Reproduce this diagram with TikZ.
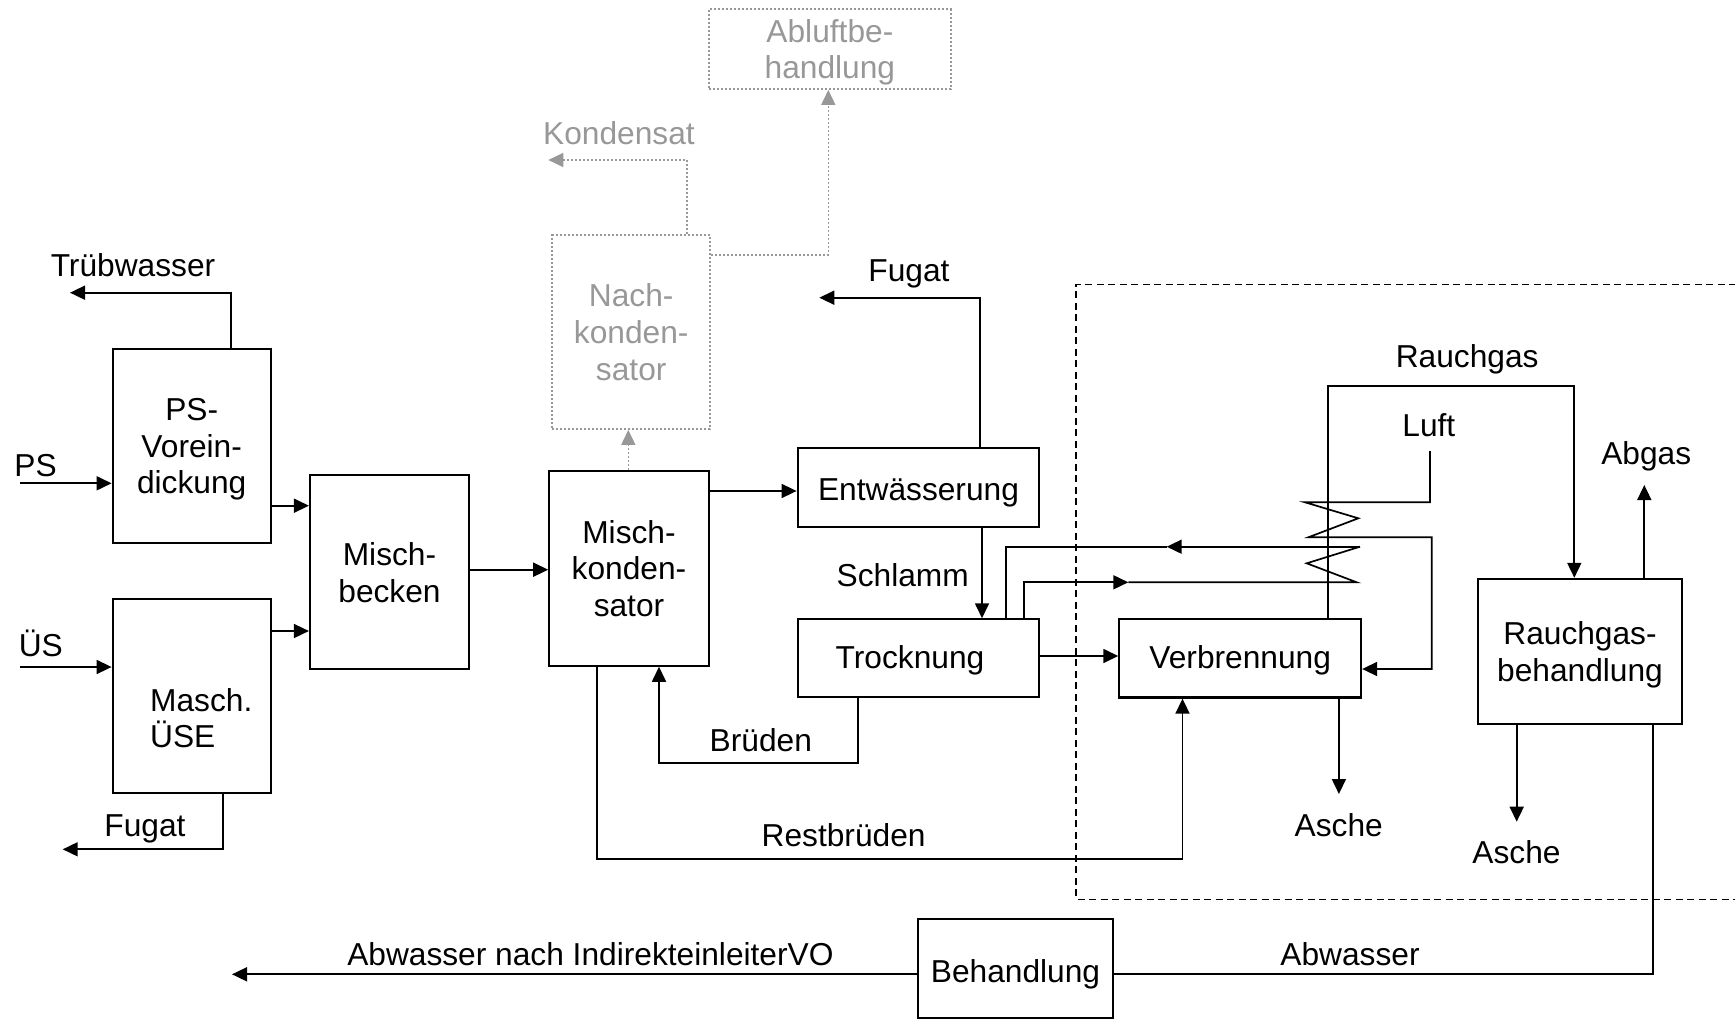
\documentclass[tikz,border=0pt]{standalone}
\usepackage{fontspec}
\setmainfont{Liberation Sans}
\usetikzlibrary{arrows.meta}
\definecolor{gr}{RGB}{152,152,152}
\begin{document}
\begin{tikzpicture}[x=1pt,y=-1pt,
  font=\fontsize{31.7}{36.7}\selectfont,
  box/.style={draw, line width=2.2pt, inner sep=0pt, align=center, text depth=0pt},
  gbox/.style={draw=gr, text=gr, line width=1.8pt, dash pattern=on 2pt off 2pt, inner sep=0pt, align=center, text depth=0pt},
  lbl/.style={inner sep=0pt, anchor=base},
  con/.style={line width=1.7pt},
  arr/.style={line width=1.7pt, -{Triangle[length=15pt,width=14pt]}},
  garr/.style={color=gr, line width=1.6pt, dash pattern=on 2pt off 2pt, -{Triangle[length=15pt,width=14pt]}},
  dline/.style={line width=1.5pt, dash pattern=on 7pt off 4.5pt}]
\useasboundingbox (0,0) rectangle (1735,1020);

% boxes
\node[box, minimum width=158pt, minimum height=194.3pt] (psv) at (191.7,446.2) {PS-\\Vorein-\\dickung};
\node[box, minimum width=158pt, minimum height=193.7pt] (use) at (191.7,695.9) {};
\node[lbl, anchor=base west] (usetxt1) at (150,711.7) {Masch.};
\node[lbl, anchor=base west] (usetxt2) at (150,747.7) {ÜSE};
\node[box, minimum width=159pt, minimum height=194.3pt] (mb) at (389.5,572.2) {Misch-\\becken};
\node[box, minimum width=159.4pt, minimum height=194.7pt] (mk) at (629,568.3) {Misch-\\konden-\\sator};
\node[box, minimum width=241.6pt, minimum height=78.4pt, text height=25pt] (ent) at (918.5,487.5) {Entwässerung};
\node[box, minimum width=241.6pt, minimum height=77.7pt] (tro) at (918.5,658.2) {};
\node[lbl] (trotxt) at (910,668.3) {Trocknung};
\node[box, minimum width=241.7pt, minimum height=78.5pt, text height=20pt] (ver) at (1240.2,658.3) {Verbrennung};
\node[box, minimum width=203.4pt, minimum height=145.2pt] (rgb) at (1580,651.5) {Rauchgas-\\behandlung};
\node[box, minimum width=195.6pt, minimum height=98.7pt, text height=28pt] (beh) at (1015.5,968.7) {Behandlung};
\node[gbox, minimum width=157.7pt, minimum height=194pt] (nk) at (631.2,332) {Nach-\\konden-\\sator};
\node[gbox, minimum width=241.7pt, minimum height=80pt] (ab) at (829.9,49) {Abluftbe-\\handlung};

% dashed frame
\coordinate (dtr) at (1736,284.3);
\coordinate (dtl) at (1076,284.3);
\coordinate (dbl) at (1076,899.3);
\coordinate (dbr) at (1736,899.3);
\draw[dline] (dtr) -- (dtl) -- (dbl) -- (dbr);

% labels
\node[lbl] (l1) at (133,276) {Trübwasser};
\node[lbl] (l2) at (35.5,476.7) {PS};
\node[lbl] (l3) at (40.8,656) {ÜS};
\node[lbl] (l4) at (145,836.7) {Fugat};
\node[lbl, text=gr] (l5) at (619,144) {Kondensat};
\node[lbl] (l6) at (909,281.7) {Fugat};
\node[lbl] (l7) at (902.7,586) {Schlamm};
\node[lbl] (l8) at (760.8,751.7) {Brüden};
\node[lbl] (l9) at (843.6,846) {Restbrüden};
\node[lbl] (l10) at (1467.2,367.3) {Rauchgas};
\node[lbl] (l11) at (1428.8,436.7) {Luft};
\node[lbl] (l12) at (1646.2,464) {Abgas};
\node[lbl] (l13) at (1338.7,836.7) {Asche};
\node[lbl] (l14) at (1516.5,863.3) {Asche};
\node[lbl] (l15) at (1350,965) {Abwasser};
\node[lbl] (l16) at (590.4,965.7) {Abwasser nach IndirekteinleiterVO};

% coordinates
\coordinate (psin) at (20,483.3);
\coordinate (usin) at (20,667);
\coordinate (twb) at (231,292.7);
\coordinate (tw) at (70,292.7);
\coordinate (fgb) at (223.3,849.3);
\coordinate (fg) at (62.7,849.3);
\coordinate (y1) at (0,505.7);
\coordinate (y2) at (0,631);
\coordinate (y3) at (0,569.7);
\coordinate (y4) at (0,491);
\coordinate (y5) at (0,656);
\coordinate (g1) at (628.3,0);
\coordinate (kb) at (686.7,160);
\coordinate (kd) at (548.3,160);
\coordinate (ab1) at (828.3,255);
\coordinate (fb) at (980.3,297.7);
\coordinate (fe) at (819.3,297.7);
\coordinate (sc) at (982,0);
\coordinate (b1) at (857.7,762.7);
\coordinate (b2) at (659,762.7);
\coordinate (r1) at (596.7,859.3);
\coordinate (r2) at (1182.5,859.3);
\coordinate (u1) at (1360,546.7);
\coordinate (um) at (1166.7,546.7);
\coordinate (u2) at (1006,546.7);
\coordinate (lo1) at (1024,582.3);
\coordinate (lom) at (1128.3,582.3);
\coordinate (lo2) at (1356.7,582.3);
\coordinate (zb) at (1306.7,563.3);
\coordinate (luftt) at (1430,451);
\coordinate (luftb) at (1430,502.3);
\coordinate (za1) at (1305,502.3);
\coordinate (za2) at (1358.3,518.3);
\coordinate (za3) at (1308.3,537.3);
\coordinate (zr) at (1431.7,537.3);
\coordinate (zrd) at (1431.7,669);
\coordinate (rg1) at (1327.7,385.7);
\coordinate (rg2) at (1574.3,385.7);
\coordinate (as1) at (1338.9,794);
\coordinate (ag) at (1644.3,485);
\coordinate (as2) at (1516.7,821.7);
\coordinate (aw1) at (1653.2,974.3);
\coordinate (awo) at (232,974.3);

% connectors
\draw[arr] (psin) -- (psin -| psv.west);
\draw[arr] (usin) -- (usin -| use.west);
\draw[arr] (psv.north -| twb) -- (twb) -- (tw);
\draw[arr] (use.south -| fgb) -- (fgb) -- (fg);
\draw[arr] (psv.east |- y1) -- (mb.west |- y1);
\draw[arr] (use.east |- y2) -- (mb.west |- y2);
\draw[arr] (mb.east |- y3) -- (mk.west |- y3);
\draw[arr] (mk.east |- y4) -- (ent.west |- y4);
\draw[garr] (mk.north -| g1) -- (nk.south -| g1);
\draw[garr] (nk.north -| kb) -- (kb) -- (kd);
\draw[garr] (nk.east |- ab1) -- (ab1) -- (ab.south -| ab1);
\draw[arr] (ent.north -| fb) -- (fb) -- (fe);
\draw[arr] (ent.south -| sc) -- (tro.north -| sc);
\draw[arr] (tro.south -| b1) -- (b1) -- (b2) -- (mk.south -| b2);
\draw[arr] (mk.south -| r1) -- (r1) -- (r2) -- (ver.south -| r2);
\draw[arr] (tro.east |- y5) -- (ver.west |- y5);
% heat exchanger loops
\draw[arr] (u1) -- (um);
\draw[con] (um) -- (u2) -- (tro.north -| u2);
\draw[arr] (tro.north -| lo1) -- (lo1) -- (lom);
\draw[con] (lom) -- (lo2) -- (zb) -- (u1);
\draw[arr] (luftt) -- (luftb) -- (za1) -- (za2) -- (za3) -- (zr) -- (zrd) -- (ver.east |- zrd);
\draw[arr] (ver.north -| rg1) -- (rg1) -- (rg2) -- (rgb.north -| rg2);
\draw[arr] (ver.south -| as1) -- (as1);
\draw[arr] (rgb.north -| ag) -- (ag);
\draw[arr] (rgb.south -| as2) -- (as2);
\draw[con] (rgb.south -| aw1) -- (aw1) -- (beh.east |- aw1);
\draw[arr] (beh.west |- awo) -- (awo);
\end{tikzpicture}
\end{document}
